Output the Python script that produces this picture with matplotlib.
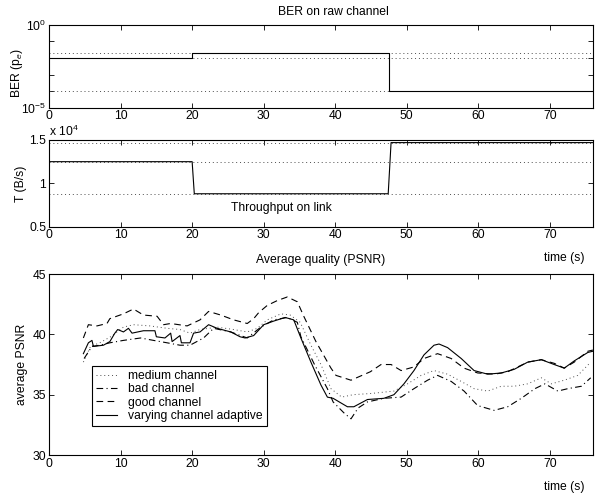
import matplotlib
matplotlib.use("Agg")
import matplotlib.pyplot as plt

plt.rcParams['font.family'] = ['Liberation Sans', 'DejaVu Sans']
plt.rcParams['mathtext.fontset'] = 'custom'
plt.rcParams['mathtext.rm'] = 'Liberation Sans'
plt.rcParams['mathtext.it'] = 'Liberation Sans:italic'
plt.rcParams['font.size'] = 8.7

# BER on raw channel (step changes)
ber_t = [0, 20, 47.5, 76]
ber_v = [1e-2, 2e-2, 1e-4, 1e-4]
ber_levels = [2e-2, 1e-2, 1e-4]

# throughput on link (x 10^4 B/s)
thr_t = [0, 20, 20.3, 47.4, 47.8, 76]
thr_v = [1.25, 1.25, 0.88, 0.88, 1.47, 1.47]
thr_levels = [1.47, 1.25, 0.88]

# average PSNR curves
med_t = [4.8, 5.8, 7.1, 8.6, 10.4, 11.8, 14.1, 16.5, 18.3, 19.7, 21.1, 23.5, 25.8, 27.7, 29.1,
         30.5, 32.4, 33.7, 35.1, 36.6, 38.0, 39.4, 40.9, 42.5, 45.0, 48.2, 50.1, 52.0, 53.8,
         55.7, 57.6, 59.4, 61.3, 63.2, 65.0, 66.9, 68.8, 70.2, 72.0, 73.9, 75.7]
med_q = [37.7, 39.0, 39.3, 39.8, 40.6, 40.8, 40.7, 40.5, 40.4, 40.1, 40.4, 40.6, 40.4, 40.2, 40.5,
         41.2, 41.7, 41.6, 41.0, 39.1, 37.5, 35.5, 34.8, 35.0, 35.1, 35.3, 35.9, 36.6, 37.0,
         36.7, 36.1, 35.5, 35.3, 35.7, 35.7, 35.9, 36.4, 35.9, 36.2, 36.6, 37.7]

bad_t = [4.9, 6.0, 7.1, 8.5, 10.4, 12.8, 14.6, 16.5, 18.3, 19.7, 21.6, 23.0, 25.4, 27.7, 29.6,
         31.4, 33.3, 34.7, 35.2, 37.1, 38.9, 39.7, 41.2, 42.2, 43.2, 44.5, 46.8, 49.2, 51.0,
         52.9, 54.3, 56.2, 58.0, 59.9, 62.2, 64.1, 66.0, 67.9, 69.3, 71.1, 72.5, 74.4, 75.7]
bad_q = [38.0, 39.0, 39.1, 39.3, 39.5, 39.7, 39.5, 39.3, 39.1, 39.1, 39.7, 40.5, 40.2, 39.7, 40.6,
         41.2, 41.4, 41.0, 39.8, 37.5, 35.5, 34.4, 33.5, 33.0, 33.9, 34.4, 34.7, 34.8, 35.5,
         36.2, 36.6, 36.1, 35.3, 34.1, 33.7, 34.0, 34.7, 35.5, 35.9, 35.3, 35.5, 35.7, 36.4]

good_t = [4.8, 5.5, 6.7, 8.1, 8.5, 10.4, 11.8, 13.2, 15.1, 16.0, 17.0, 19.3, 21.1, 22.3, 24.0,
          25.8, 27.7, 28.6, 29.3, 30.5, 31.9, 33.3, 34.7, 35.6, 37.3, 39.4, 40.1, 42.2, 44.9,
          46.4, 47.8, 49.2, 51.0, 52.4, 54.3, 56.2, 58.0, 59.9, 62.3, 64.1, 66.9, 68.8, 70.6,
          72.0, 73.4, 75.3, 76.0]
good_q = [39.7, 40.8, 40.7, 40.9, 41.3, 41.7, 42.1, 41.6, 41.5, 40.8, 40.9, 40.7, 41.2, 41.9, 41.6,
          41.2, 40.9, 41.3, 41.8, 42.4, 42.8, 43.1, 42.7, 41.5, 39.4, 37.2, 36.6, 36.2, 36.9,
          37.5, 37.5, 37.0, 37.3, 38.0, 38.4, 38.0, 37.2, 36.8, 36.7, 36.9, 37.7, 37.9, 37.6,
          37.2, 37.7, 38.6, 38.7]

adapt_t = [4.8, 5.5, 6.0, 6.2, 7.6, 8.5, 9.2, 9.6, 10.4, 11.1, 11.6, 13.2, 14.8, 15.0, 16.2,
           17.0, 17.2, 18.3, 18.5, 19.7, 20.2, 21.1, 22.3, 23.5, 25.4, 26.7, 27.4, 28.6, 30.0,
           31.4, 33.0, 34.2, 35.2, 36.6, 38.0, 38.9, 39.7, 41.7, 42.6, 44.5, 46.8, 48.2, 49.6,
           51.0, 52.4, 53.8, 54.5, 55.7, 57.6, 59.4, 61.3, 63.2, 65.0, 66.9, 68.8, 70.6, 72.0,
           73.4, 75.3, 76.0]
adapt_q = [38.4, 39.3, 39.5, 39.0, 39.1, 39.4, 40.1, 40.4, 40.2, 40.5, 40.1, 40.3, 40.3, 39.8, 39.7,
           40.1, 39.4, 39.9, 39.3, 39.3, 40.1, 40.2, 40.8, 40.5, 40.2, 39.8, 39.7, 39.9, 40.8,
           41.1, 41.4, 41.2, 39.7, 37.7, 35.8, 34.8, 34.7, 34.0, 34.0, 34.6, 34.7, 35.0, 35.9,
           37.0, 38.3, 39.1, 39.2, 38.9, 38.0, 37.0, 36.7, 36.8, 37.1, 37.7, 37.9, 37.5, 37.2,
           37.8, 38.5, 38.6]

dotted = (0, (1, 3))
dashed = (0, (6, 4))
dashdot = (0, (6, 3, 1, 3))
lw = 0.8
dotcol = '0.3'

fig = plt.figure(figsize=(5.95, 4.94), dpi=100)
ax1 = fig.add_axes([0.0824, 0.782, 0.914, 0.1675])
ax2 = fig.add_axes([0.0824, 0.5411, 0.914, 0.1755])
ax3 = fig.add_axes([0.0824, 0.0789, 0.914, 0.3664])

for ax in (ax1, ax2, ax3):
    ax.set_xlim(0, 76)
    ax.set_xticks(range(0, 80, 10))
    ax.tick_params(direction='in', top=True, right=True, length=3.5, width=0.6, pad=2)
    ax.minorticks_off()
    for s in ax.spines.values():
        s.set_linewidth(0.8)

# top: BER
for lev in ber_levels:
    ax1.axhline(lev, color=dotcol, ls=dotted, lw=0.7)
ax1.step(ber_t, ber_v, where='post', color='black', lw=lw)
ax1.set_yscale('log')
ax1.set_ylim(1e-5, 1)
ax1.set_yticks([1, 1e-1, 1e-2, 1e-3, 1e-4, 1e-5])
ax1.set_yticklabels(['$10^{0}$', '', '', '', '', '$10^{-5}$'])
ax1.minorticks_off()
ax1.set_ylabel('BER (p$_e$)')
ax1.yaxis.set_label_coords(-0.044, 0.42)
ax1.text(0.522, 1.08, 'BER on raw channel', transform=ax1.transAxes, ha='center', va='bottom')

# middle: throughput
for lev in thr_levels:
    ax2.axhline(lev, color=dotcol, ls=dotted, lw=0.7)
ax2.plot(thr_t, thr_v, color='black', lw=lw)
ax2.set_ylim(0.5, 1.5)
ax2.set_yticks([0.5, 1, 1.5])
ax2.set_yticklabels(['0.5', '1', '1.5'])
ax2.set_ylabel('T (B/s)')
ax2.yaxis.set_label_coords(-0.040, 0.49)
ax2.text(32.5, 0.716, 'Throughput on link', ha='center', va='center')
fig.text(0.082, 1 - 131.7 / 494, r'x $10^{4}$', ha='left', va='center')
fig.text(585 / 595, 1 - 258 / 494, 'time (s)', ha='right', va='center')

# bottom: PSNR
ax3.plot(med_t, med_q, color=dotcol, ls=dotted, lw=0.7, label='medium channel')
ax3.plot(bad_t, bad_q, color='black', ls=dashdot, lw=lw, label='bad channel')
ax3.plot(good_t, good_q, color='black', ls=dashed, lw=lw, label='good channel')
ax3.plot(adapt_t, adapt_q, color='black', lw=lw, label='varying channel adaptive')
ax3.set_ylim(30, 45)
ax3.set_yticks([30, 35, 40, 45])
ax3.set_ylabel('average PSNR')
ax3.yaxis.set_label_coords(-0.039, 0.5)
fig.text(0.5395, 1 - 260 / 494, 'Average quality (PSNR)', ha='center', va='center')
fig.text(585 / 595, 1 - 486.7 / 494, 'time (s)', ha='right', va='center')

leg = ax3.legend(loc='lower left', bbox_to_anchor=(0.0785, 0.16), borderaxespad=0,
                 handlelength=1.75, handletextpad=0.9, labelspacing=0.1,
                 borderpad=0.35, fancybox=False, framealpha=1, edgecolor='black')
leg.get_frame().set_linewidth(0.8)

fig.savefig('out.png', dpi=100)
